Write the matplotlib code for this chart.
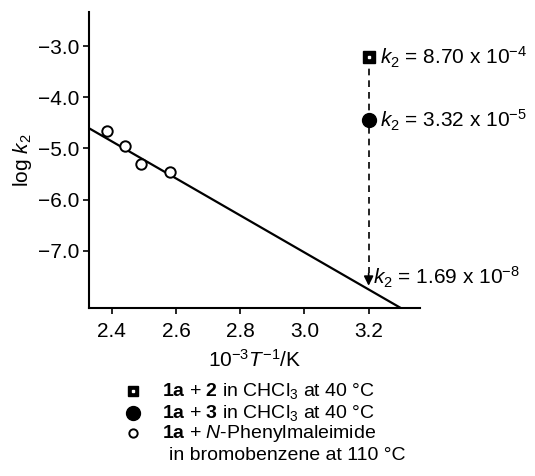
import matplotlib
matplotlib.use("Agg")
import matplotlib.pyplot as plt

plt.rcParams['font.family'] = ['Liberation Sans', 'DejaVu Sans']
plt.rcParams['mathtext.fontset'] = 'custom'
plt.rcParams['mathtext.rm'] = 'Liberation Sans'
plt.rcParams['mathtext.it'] = 'Liberation Sans:italic'
plt.rcParams['mathtext.bf'] = 'Liberation Sans:bold'

# open circles: 1a + N-phenylmaleimide
invT = [2.385, 2.44, 2.49, 2.58]
logk = [-4.65, -4.96, -5.31, -5.47]

# regression line end points
fit_x = [2.33, 3.30]
fit_y = [-4.61, -8.12]

# points at 40 C
x40 = 3.2
log_sq = -3.22      # 1a + 2
log_dot = -4.45     # 1a + 3
log_pred = -7.74    # extrapolated

labels_k = ["8.70 x 10$^{-4}$", "3.32 x 10$^{-5}$", "1.69 x 10$^{-8}$"]
yticks = [-3.0, -4.0, -5.0, -6.0, -7.0]
xticks = [2.4, 2.6, 2.8, 3.0, 3.2]

fs = 15
fs_leg = 14

fig = plt.figure(figsize=(5.35, 4.76), dpi=100)
ax = fig.add_axes([0.166, 0.353, 0.619, 0.622])

ax.plot(fit_x, fit_y, color='black', lw=1.6)
ax.plot(invT, logk, 'o', mfc='white', mec='black', mew=1.4, ms=7.5)

# dashed drop line with arrow
ax.plot([x40, x40], [log_sq, log_pred + 0.3], ls=(0, (4, 3)), color='black', lw=1.2, zorder=1)
ax.annotate('', xy=(x40, log_pred), xytext=(x40, log_pred + 0.35),
            arrowprops=dict(arrowstyle='-|>', color='black', lw=1.2, mutation_scale=14))

ax.plot([x40], [log_sq], 's', color='black', ms=9, zorder=3)
ax.plot([x40], [log_sq], 's', color='white', ms=2, zorder=4)
ax.plot([x40], [log_dot], 'o', color='black', ms=10, zorder=3)

ax.annotate("$k_2$ = " + labels_k[0], (x40, log_sq), xytext=(8, 0), textcoords='offset points',
            va='center', ha='left', fontsize=fs)
ax.annotate("$k_2$ = " + labels_k[1], (x40, log_dot), xytext=(8, 0), textcoords='offset points',
            va='center', ha='left', fontsize=fs)
ax.annotate("$k_2$ = " + labels_k[2], (x40, log_pred), xytext=(3, 8), textcoords='offset points',
            va='center', ha='left', fontsize=fs)

ax.set_xlim(2.328, 3.36)
ax.set_ylim(-8.12, -2.33)
ax.set_xticks(xticks)
ax.set_xticklabels([f"{v:.1f}" for v in xticks])
ax.set_yticks(yticks)
ax.set_yticklabels([f"\u2212{abs(v):.1f}" for v in yticks])
ax.tick_params(direction='out', length=4, width=1.2, labelsize=fs)
ax.tick_params(axis='x', pad=6)
ax.tick_params(axis='y', pad=3)
for s in ['top', 'right']:
    ax.spines[s].set_visible(False)
for s in ['left', 'bottom']:
    ax.spines[s].set_linewidth(1.5)

ax.set_xlabel("10$^{-3}$$T^{-1}$/K", fontsize=fs, labelpad=6)
ax.set_ylabel("log $k_2$", fontsize=fs, labelpad=3)

# legend below the plot
mx, tx = 0.249, 0.303
rows = [0.179, 0.132, 0.090, 0.044]
fig.add_artist(plt.Line2D([mx], [rows[0]], marker='s', color='black', ms=7, transform=fig.transFigure))
fig.add_artist(plt.Line2D([mx], [rows[0]], marker='s', color='white', ms=2, transform=fig.transFigure))
fig.add_artist(plt.Line2D([mx], [rows[1]], marker='o', color='black', ms=10, transform=fig.transFigure))
fig.add_artist(plt.Line2D([mx], [rows[2]], marker='o', mfc='white', mec='black', mew=1.4, ms=6,
                          transform=fig.transFigure))
fig.text(tx, rows[0], r"$\mathbf{1a}$ + $\mathbf{2}$ in CHCl$_3$ at 40 °C", va='center', fontsize=fs_leg)
fig.text(tx, rows[1], r"$\mathbf{1a}$ + $\mathbf{3}$ in CHCl$_3$ at 40 °C", va='center', fontsize=fs_leg)
fig.text(tx, rows[2], r"$\mathbf{1a}$ + $N$-Phenylmaleimide", va='center', fontsize=fs_leg)
fig.text(tx + 0.012, rows[3], "in bromobenzene at 110 °C", va='center', fontsize=fs_leg)

fig.savefig("out.png", dpi=100)
